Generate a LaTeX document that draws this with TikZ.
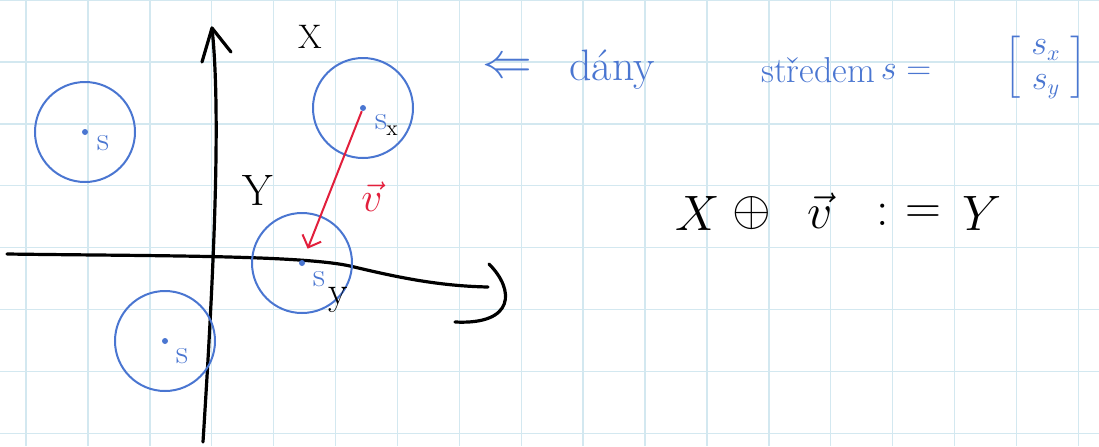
\documentclass[tikz,border=0pt]{standalone}
\usepackage{fontspec}
\usepackage{amsmath}
\usetikzlibrary{positioning,arrows.meta}
\definecolor{gridblue}{HTML}{D3E8F0}
\definecolor{inkblue}{HTML}{4A76D1}
\definecolor{inkred}{HTML}{E21F3C}
\tikzset{
  ring/.style={draw=inkblue, line width=1pt, circle, minimum size=50pt, inner sep=0pt},
  centre/.style={fill=inkblue, circle, inner sep=0pt, minimum size=3pt},
  axis/.style={line width=1.6pt, line cap=round, line join=round},
  gridline/.style={gridblue, line width=0.7pt},
  bluetext/.style={text=inkblue, inner sep=0pt},
  eqpart/.style={font=\fontsize{26}{30}\selectfont, inner sep=0pt},
}
\begin{document}
\begin{tikzpicture}[x=0.5pt,y=-0.5pt]
\useasboundingbox (0,0) rectangle (1099,446);
\fill[white] (0,0) rectangle (1099,446);
\foreach \i in {0,...,17} \draw[gridline] ({26+61.9*\i},0) -- ({26+61.9*\i},446);
\foreach \j in {0,...,7} \draw[gridline] (0,{61.9*\j}) -- (1099,{61.9*\j});

\coordinate (ybot) at (203,442);
\coordinate (ytop) at (212,28);
\coordinate (xleft) at (7,254);
\coordinate (xright) at (488,287);
\draw[axis] (ybot) .. controls (212,300) and (222,120) .. (ytop);
\draw[axis] (202,62) -- (ytop) -- (231,52);
\draw[axis] (xleft) .. controls (150,256) and (300,255) .. (350,266) .. controls (400,278) and (440,286) .. (xright);
\draw[axis] (489,264) .. controls (515,290) and (515,325) .. (455,322);
\node[font=\fontsize{17}{20}\selectfont] (xlab) at (310,37) {X};
\node[font=\fontsize{22}{24}\selectfont] (ylab) at (258,190) {Y};

\node[ring] (c1) at (85,132) {};
\node[ring] (c2) at (363,108) {};
\node[ring] (c3) at (302,263) {};
\node[ring] (c4) at (165,341) {};
\node[centre] (d1) at (c1) {};
\node[centre] (d2) at (c2) {};
\node[centre] (d3) at (c3) {};
\node[centre] (d4) at (c4) {};
\node[bluetext, font=\fontsize{17}{20}\selectfont] (s1) at (103,143) {s};
\node[bluetext, font=\fontsize{17}{20}\selectfont] (s2) at (381,122) {s};
\node[bluetext, font=\fontsize{17}{20}\selectfont] (s3) at (319,279) {s};
\node[bluetext, font=\fontsize{17}{20}\selectfont] (s4) at (182,356) {s};
\node[inner sep=0pt, font=\fontsize{11}{12}\selectfont] (sx) at (392,131) {x};
\node[inner sep=0pt, font=\fontsize{20}{22}\selectfont] (sy) at (338,300) {y};

\draw[inkred, line width=1pt, shorten >=6pt, -{Straight Barb[length=5pt]}] (d2) -- (d3);
\node[text=inkred, font=\fontsize{20}{22}\selectfont] (vlab) at (372,197) {$\vec{v}$};

\node[bluetext, font=\fontsize{24}{28}\selectfont] (impl) at (507,68) {$\Leftarrow$};
\node[bluetext, font=\fontsize{22}{26}\selectfont] (dany) at (612,70) {dány};
\node[bluetext, font=\fontsize{18}{21}\selectfont] (stred) at (818,70) {středem};
\node[bluetext, font=\fontsize{18}{21}\selectfont] (seq) at (906,72) {$s=$};
\node[bluetext, font=\fontsize{16}{18}\selectfont] (svec) at (1046,67) {\renewcommand\arraystretch{0.8}$\left[\begin{array}{c} s_x\\[3pt] s_y\end{array}\right]$};

\node[eqpart] (eqx) at (698,213) {$X$};
\node[eqpart] (eqop) at (752,213) {$\oplus$};
\node[eqpart] (eqv) at (820,211) {$\vec{v}$};
\node[eqpart] (eqcol) at (883,215) {$:$};
\node[eqpart] (eqeq) at (923,215) {$=$};
\node[eqpart] (eqy) at (982,213) {$Y$};
\end{tikzpicture}
\end{document}
